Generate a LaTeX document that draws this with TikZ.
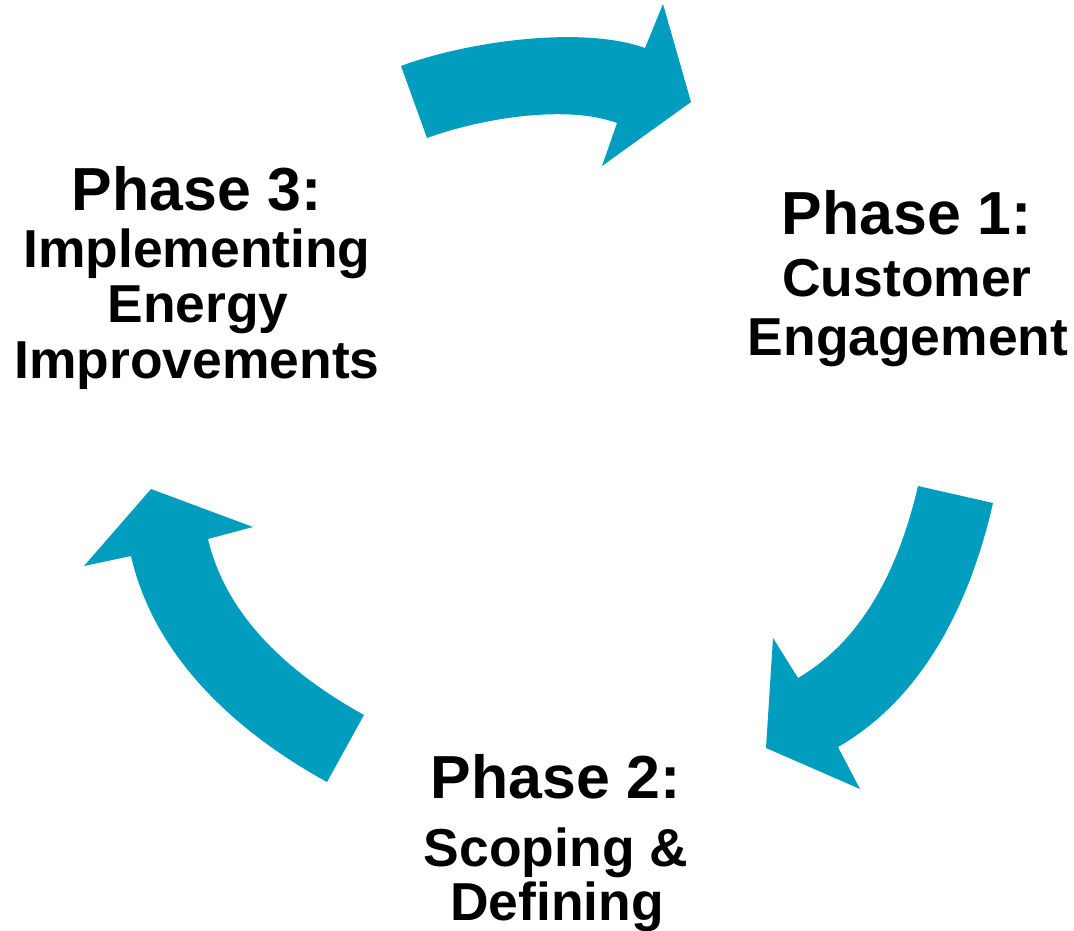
\documentclass[tikz,border=0pt]{standalone}
\usepackage{fontspec}
\setmainfont{Liberation Sans}
\definecolor{cyclecol}{RGB}{0,157,190}
\begin{document}
\begin{tikzpicture}[x=0.02cm, y=-0.02cm,
    phasetitle/.style={anchor=base, inner sep=0pt, font=\fontsize{34.6}{40}\selectfont\bfseries},
    phaseline/.style={anchor=base, inner sep=0pt, font=\fontsize{30.4}{36}\selectfont\bfseries},
    bigarrow/.style={fill=cyclecol, draw=none}]
        \useasboundingbox (0, 0) rectangle (1074, 930);

        %%A1
        \fill[bigarrow](401, 66) .. controls (465, 42) and (581, 25) .. (645, 48)
            -- (663, 4) -- (691, 102) -- (602, 166) -- (617, 123)
            .. controls (565, 104) and (479, 119) .. (427, 138) -- cycle;
        %%A2
        \fill[bigarrow](918, 486) -- (993, 503)
            .. controls (971, 600) and (925, 697) .. (838, 747)
            -- (860, 789) -- (766, 748) -- (773, 638) -- (798, 678)
            .. controls (866, 638) and (900, 563) .. (918, 486) -- cycle;
        %%A3
        \fill[bigarrow](327, 782) .. controls (236, 732) and (154, 657) .. (131, 556)
            -- (84, 566) -- (151, 489) -- (253, 527) -- (208, 539)
            .. controls (227, 619) and (292, 675) .. (364, 715) -- cycle;

        %%P1
        \node[phasetitle] (p1) at (907, 234){Phase 1:};
        \node[phaseline] (p1a) at (907, 296){Customer};
        \node[phaseline] (p1b) at (908, 355){Engagement};
        %%P2
        \node[phasetitle] (p2) at (556, 798){Phase 2:};
        \node[phaseline] (p2a) at (556, 866){Scoping \&};
        \node[phaseline] (p2b) at (557, 920){Defining};
        %%P3
        \node[phasetitle] (p3) at (197, 210){Phase 3:};
        \node[phaseline] (p3a) at (197, 267){Implementing};
        \node[phaseline] (p3b) at (198, 322){Energy};
        \node[phaseline] (p3c) at (197, 378){Improvements};

    \end{tikzpicture}
\end{document}
